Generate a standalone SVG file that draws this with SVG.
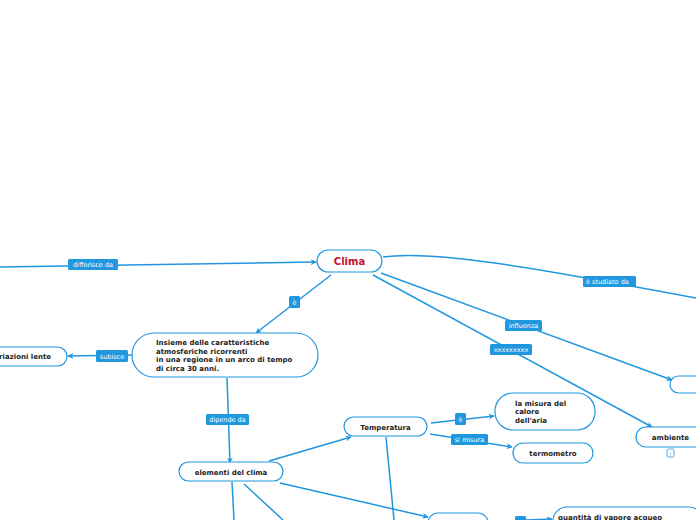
<svg xmlns="http://www.w3.org/2000/svg" width="696" height="520" viewBox="0 0 696 520">
<style>
.n{fill:#fff;stroke:#2196e0;stroke-width:1.2}
.t{font-family:"DejaVu Sans",Verdana,sans-serif;font-weight:bold;font-size:7px;fill:#222}
.c{stroke:#2196e0;stroke-width:1.5;fill:none}
.lb{fill:#1f98df;rx:1.5}
.lt{font-family:"DejaVu Sans",Verdana,sans-serif;font-size:6.5px;fill:#fff}
</style>
<defs>
<marker id="a" viewBox="0 0 10 10" refX="9" refY="5" markerWidth="6" markerHeight="6" orient="auto" markerUnits="userSpaceOnUse"><path d="M0,0 L10,5 L0,10 L3,5 Z" fill="#2196e0"/></marker>
</defs>
<rect width="696" height="520" fill="#fff"/>
<g id="connectors">
<path class="c" d="M0,267 L316,262" marker-end="url(#a)"/>
<path class="c" d="M331,275 L256,333" marker-end="url(#a)"/>
<path class="c" d="M132,355 L68,356" marker-end="url(#a)"/>
<path class="c" d="M227,378 L230,463" marker-end="url(#a)"/>
<path class="c" d="M269,461 L351,437" marker-end="url(#a)"/>
<path class="c" d="M431,423 L494,416" marker-end="url(#a)"/>
<path class="c" d="M430,434 L512,447" marker-end="url(#a)"/>
<path class="c" d="M381,273 L672,380" marker-end="url(#a)"/>
<path class="c" d="M373,275 L652,427" marker-end="url(#a)"/>
<path class="c" d="M383,257 C430,250 520,265 696,298"/>
<path class="c" d="M386,437 L394,520"/>
<path class="c" d="M280,483 L428,517" marker-end="url(#a)"/>
<path class="c" d="M232,482 L234,520"/>
<path class="c" d="M244,484 L283,520"/>
<path class="c" d="M526,520 L552,519" marker-end="url(#a)"/>
<rect class="lb" x="68" y="259" width="50" height="11"/><text class="lt" x="93" y="267" text-anchor="middle">differisce da</text>
<rect class="lb" x="289" y="296" width="11" height="12"/><text class="lt" x="294.5" y="305" text-anchor="middle">è</text>
<rect class="lb" x="96" y="350" width="32" height="12"/><text class="lt" x="112" y="358.5" text-anchor="middle">subisce</text>
<rect class="lb" x="206" y="414" width="43" height="11"/><text class="lt" x="227.5" y="422" text-anchor="middle">dipende da</text>
<rect class="lb" x="455" y="413" width="11" height="12"/><text class="lt" x="460.5" y="422" text-anchor="middle">è</text>
<rect class="lb" x="451" y="434" width="37" height="11"/><text class="lt" x="469.5" y="442" text-anchor="middle">si misura</text>
<rect class="lb" x="505" y="320" width="37" height="11"/><text class="lt" x="523.5" y="328" text-anchor="middle">influenza</text>
<rect class="lb" x="490" y="344" width="42" height="11"/><text class="lt" x="511" y="352" text-anchor="middle">xxxxxxxxx</text>
<rect class="lb" x="583" y="276" width="53" height="11"/><text class="lt" x="586" y="284">è studiato da</text>
<rect class="lb" x="515" y="516" width="11" height="10"/>
</g>
<g id="clima"><rect class="n" x="317" y="250" width="65" height="22" rx="11"/><text x="349.5" y="265" text-anchor="middle" style="font-family:'DejaVu Sans',Verdana,sans-serif;font-weight:bold;font-size:10px;fill:#c8102e">Clima</text></g>
<g id="insieme"><rect class="n" x="132" y="333" width="186" height="44" rx="22"/><text class="t" x="156" y="345">Insieme delle caratteristiche</text><text class="t" x="156" y="353.5">atmosferiche ricorrenti</text><text class="t" x="156" y="362">in una regione in un arco di tempo</text><text class="t" x="156" y="371">di circa 30 anni.</text></g>
<g id="variazioni"><rect class="n" x="-60" y="347" width="127" height="19" rx="9.5"/><text class="t" x="51" y="359" text-anchor="end">variazioni lente</text></g>
<g id="elementi"><rect class="n" x="179" y="462" width="104" height="19" rx="9.5"/><text class="t" x="231" y="474.5" text-anchor="middle">elementi del clima</text></g>
<g id="temperatura"><rect class="n" x="344" y="417" width="83" height="19" rx="9.5"/><text class="t" x="385.5" y="429.5" text-anchor="middle">Temperatura</text></g>
<g id="misura"><rect class="n" x="495" y="393" width="100" height="37" rx="18"/><text class="t" x="515" y="406">la misura del</text><text class="t" x="515" y="414">calore</text><text class="t" x="515" y="423">dell'aria</text></g>
<g id="termometro"><rect class="n" x="513" y="443" width="80" height="20" rx="10"/><text class="t" x="553" y="455.5" text-anchor="middle">termometro</text></g>
<g id="ambiente"><rect class="n" x="636" y="427" width="80" height="20" rx="10"/><text class="t" x="670.5" y="439.5" text-anchor="middle">ambiente</text><rect x="667" y="449" width="7" height="8" rx="1.5" fill="#fff" stroke="#2196e0" stroke-width="0.8"/><text x="670.5" y="455.5" text-anchor="middle" style="font-family:'DejaVu Sans',sans-serif;font-size:5px;fill:#2196e0">!</text></g>
<g id="right"><rect class="n" x="670" y="376" width="60" height="17" rx="8.5"/></g>
<g id="bottom1"><rect class="n" x="428" y="513" width="60" height="20" rx="10"/></g>
<g id="vapore"><rect class="n" x="553" y="507" width="150" height="40" rx="14"/><text class="t" x="610" y="519.5" text-anchor="middle">quantità di vapore acqueo</text></g>
</svg>
